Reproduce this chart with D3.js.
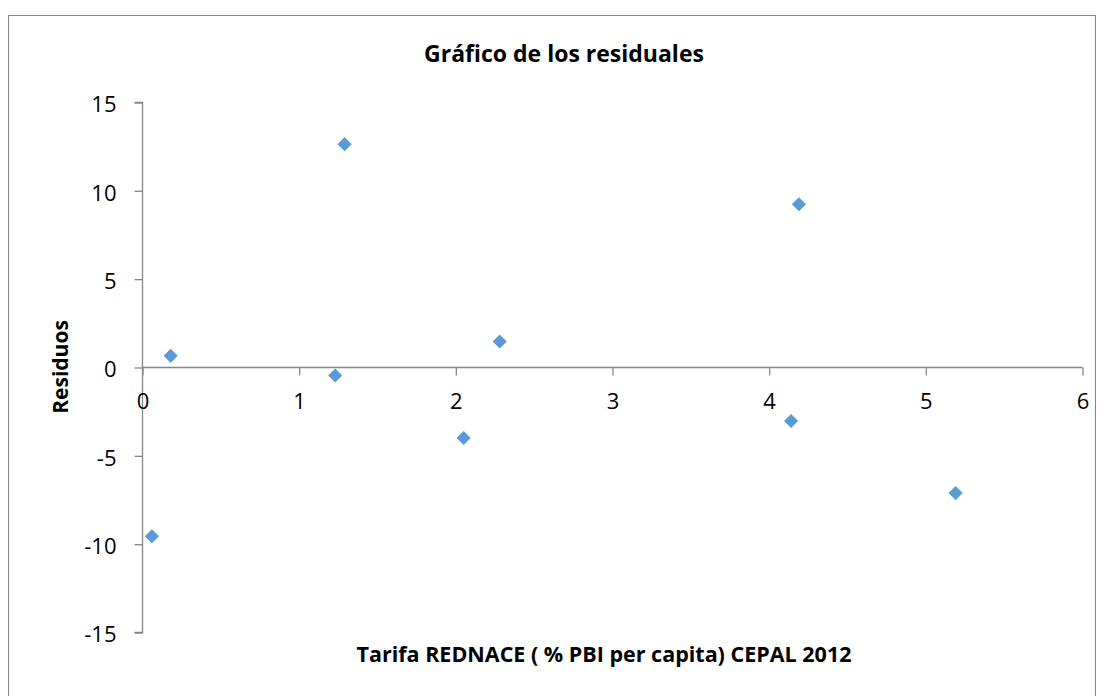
<!DOCTYPE html>
<html>
<head>
<meta charset="utf-8">
<script src="https://cdn.jsdelivr.net/npm/d3@7"></script>
<style>
  html, body { margin: 0; padding: 0; background: #fff; }
  svg { display: block; font-family: "Open Sans", "Liberation Sans", sans-serif; }
</style>
</head>
<body>
<svg id="chart" width="1104" height="696"></svg>
<script>
// Residuals against the REDNACE tariff
const tarifa   = [0.06, 0.18, 1.23, 1.29, 2.05, 2.28, 4.14, 4.19, 5.19];
const residuos = [-9.55, 0.66, -0.45, 12.64, -3.99, 1.47, -3.03, 9.24, -7.11];
const xTicks = [0, 1, 2, 3, 4, 5, 6];
const yTicks = [-15, -10, -5, 0, 5, 10, 15];

const titulo = "Gráfico de los residuales";
const tituloX = "Tarifa REDNACE ( % PBI per capita) CEPAL 2012";
const tituloY = "Residuos";

const svg = d3.select("#chart");
const axisColor = "#868686";
// plain integers with an ASCII hyphen for negatives
const fmt = v => String(v);

// outer chart frame
svg.append("rect")
  .attr("x", 8.5).attr("y", 15.5)
  .attr("width", 1087).attr("height", 690)
  .attr("fill", "#fff").attr("stroke", axisColor).attr("stroke-width", 1);

const x = d3.scaleLinear().domain([0, 6]).range([142.5, 1082.5]);
const y = d3.scaleLinear().domain([-15, 15]).range([632.5, 102.5]);

// y axis on x = 0
const gy = svg.append("g")
  .attr("transform", `translate(${x(0)},0)`)
  .call(d3.axisLeft(y).tickValues(yTicks).tickFormat(fmt).tickSize(8).tickPadding(18));
// x axis on y = 0, labels just beneath the line
const gx = svg.append("g")
  .attr("transform", `translate(0,${y(0)})`)
  .call(d3.axisBottom(x).tickValues(xTicks).tickFormat(fmt).tickSize(8).tickPadding(18));

[gx, gy].forEach(g => {
  g.select(".domain").attr("stroke", axisColor).attr("stroke-width", 1.3);
  g.selectAll(".tick line").attr("stroke", axisColor).attr("stroke-width", 1.3);
  g.selectAll(".tick text").attr("fill", "#000").style("font-size", "22px")
    .style("font-family", "'Open Sans', 'Liberation Sans', sans-serif");
});
gy.selectAll(".tick text").attr("dy", "0.42em");
gy.select(".domain").attr("d", `M-8,${y(15)}H0V${y(-15)}H-8`);
gx.select(".domain").attr("d", `M${x(0)},0H${x(6)}`);

// residual points as blue diamonds
svg.append("g").selectAll("path")
  .data(tarifa.map((t, i) => ({ t, r: residuos[i] })))
  .join("path")
  .attr("d", d3.symbol().type(d3.symbolSquare).size(100))
  .attr("transform", d => `translate(${x(d.t)},${y(d.r)}) rotate(45)`)
  .attr("fill", "#5B9BD5");

// titles
svg.append("text")
  .attr("x", 564).attr("y", 62)
  .attr("text-anchor", "middle")
  .style("font-size", "23px").style("font-weight", "bold")
  .text(titulo);

svg.append("text")
  .attr("x", 604).attr("y", 662)
  .attr("text-anchor", "middle")
  .style("font-size", "21.5px").style("font-weight", "bold")
  .text(tituloX);

svg.append("text")
  .attr("transform", "translate(68,367) rotate(-90)")
  .attr("text-anchor", "middle")
  .style("font-size", "21px").style("font-weight", "bold")
  .text(tituloY);
</script>
</body>
</html>
